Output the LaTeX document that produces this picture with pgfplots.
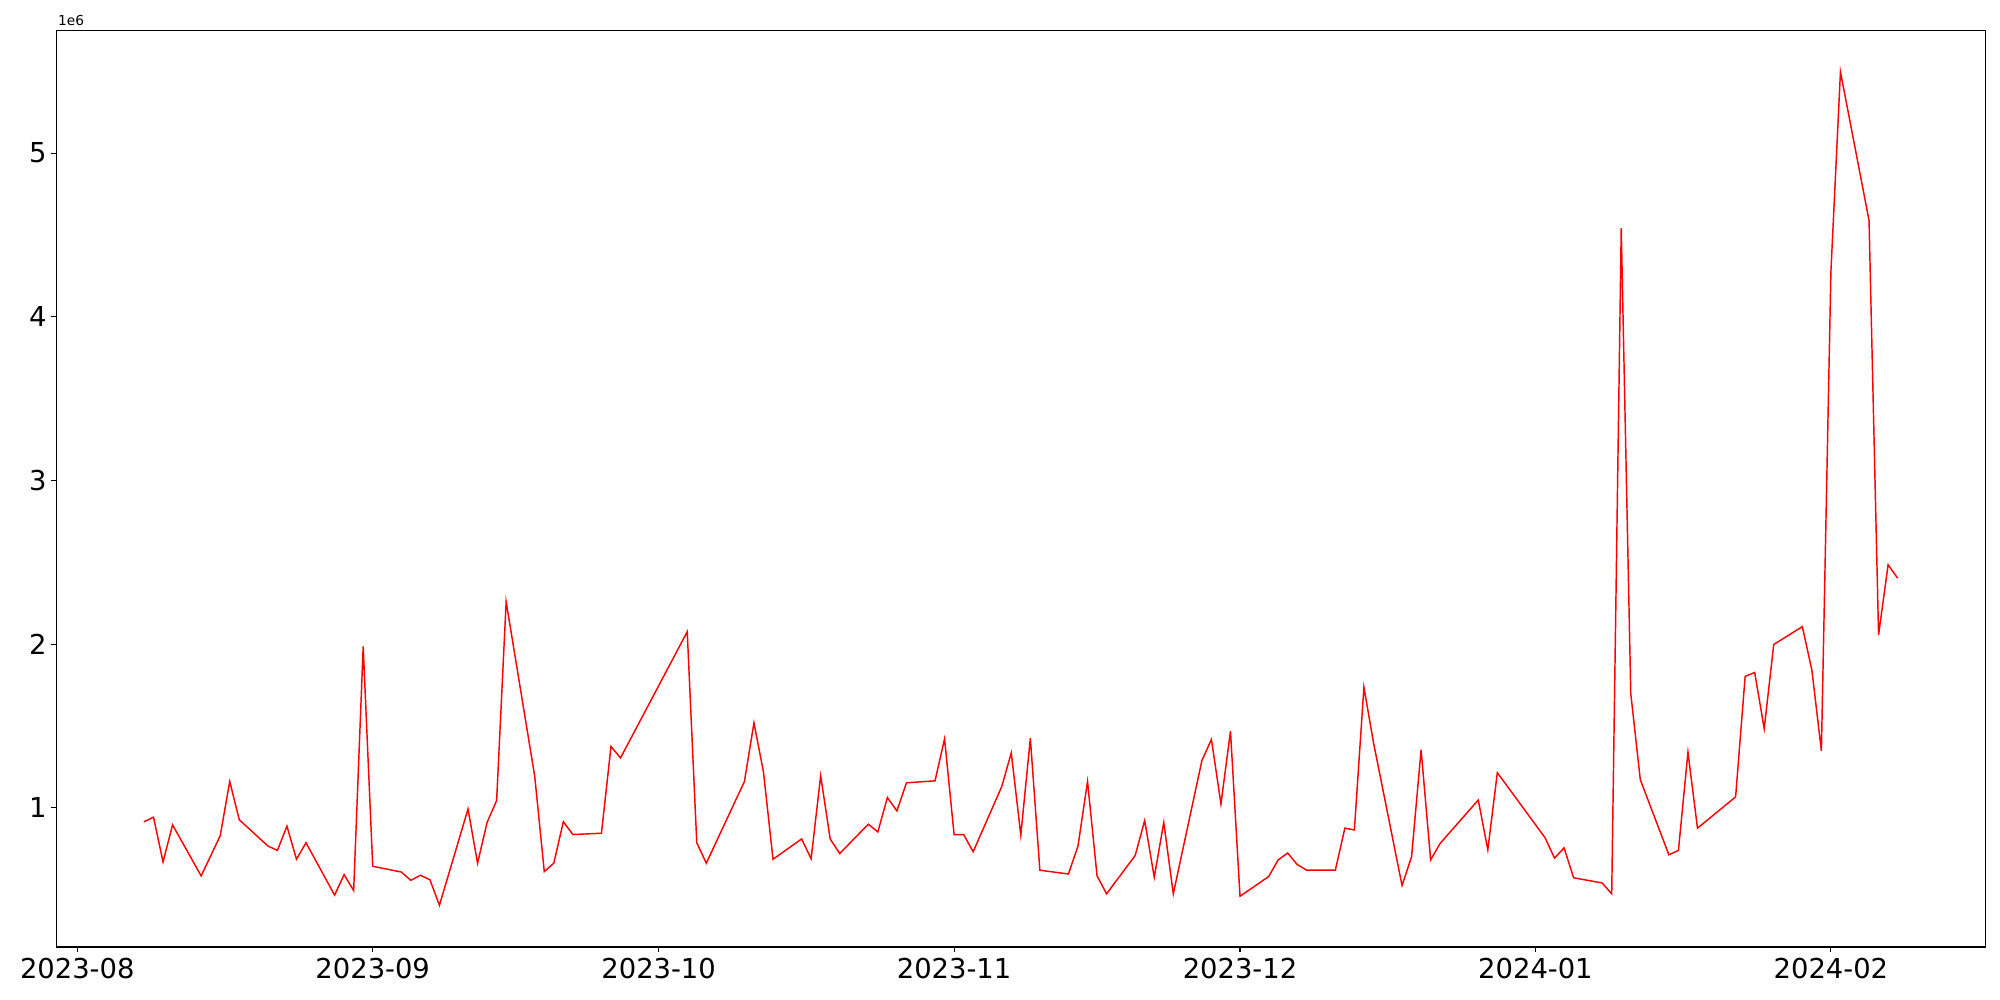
\documentclass[border=0pt]{standalone}
\usepackage{fontspec}
\setmainfont{DejaVu Sans}
\usepackage{pgfplots}
\pgfplotsset{compat=1.18}
\begin{document}
\begin{tikzpicture}
\begin{axis}[
  at={(0,0)}, anchor=south west,
  scale only axis,
  width=1394.1pt, height=662.5pt,
  xmin=-2.2, xmax=200.2,
  ymin=0.15, ymax=5.75,
  xtick={0,31,61,92,122,153,184},
  xticklabels={2023-08,2023-09,2023-10,2023-11,2023-12,2024-01,2024-02},
  ytick={1,2,3,4,5},
  yticklabels={1,2,3,4,5},
  xtick pos=left, ytick pos=left,
  tick align=outside,
  major tick length=3.5pt,
  axis line style={line width=0.8pt},
  every tick/.style={black, line width=0.8pt},
  ticklabel style={font=\fontsize{19.8}{24}\selectfont},
  xticklabel style={yshift=-1pt},
  /pgf/number format/assume math mode=true,
  axis background/.style={fill=white},
  clip=true,
]
\addplot[red, line width=1.05pt, mark=none] coordinates {
(7,0.915) (8,0.943) (9,0.670) (10,0.896) (13,0.584) (15,0.830) (16,1.161) (17,0.927)
(20,0.767) (21,0.740) (22,0.888) (23,0.686) (24,0.787) (27,0.467) (28,0.592) (29,0.495)
(30,1.986) (31,0.643) (34,0.608) (35,0.557) (36,0.588) (37,0.561) (38,0.405) (41,0.993)
(42,0.662) (43,0.911) (44,1.044) (45,2.259) (48,1.192) (49,0.611) (50,0.662) (51,0.915)
(52,0.837) (55,0.845) (56,1.375) (57,1.305) (64,2.076) (65,0.787) (66,0.662) (70,1.161)
(71,1.519) (72,1.219) (73,0.686) (76,0.810) (77,0.689) (78,1.196) (79,0.810) (80,0.721)
(83,0.900) (84,0.853) (85,1.063) (86,0.981) (87,1.153) (90,1.165) (91,1.422) (92,0.837)
(93,0.837) (94,0.732) (97,1.130) (98,1.336) (99,0.833) (100,1.425) (101,0.619) (104,0.596)
(105,0.767) (106,1.161) (107,0.584) (108,0.475) (111,0.709) (112,0.923) (113,0.576) (114,0.911)
(115,0.475) (118,1.289) (119,1.418) (120,1.024) (121,1.468) (122,0.460) (125,0.580) (126,0.682)
(127,0.724) (128,0.654) (129,0.619) (132,0.619) (133,0.876) (134,0.865) (135,1.737) (136,1.400)
(139,0.526) (140,0.701) (141,1.355) (142,0.682) (143,0.783) (147,1.048) (148,0.744) (149,1.215)
(154,0.818) (155,0.693) (156,0.756) (157,0.573) (160,0.541) (161,0.475) (162,4.541) (163,1.698)
(164,1.172) (167,0.713) (168,0.740) (169,1.340) (170,0.876) (174,1.067) (175,1.803) (176,1.827)
(177,1.484) (178,1.998) (181,2.107) (182,1.842) (183,1.348) (184,4.277) (185,5.496) (188,4.588)
(189,2.056) (190,2.485) (191,2.403)
};
\end{axis}
\node[anchor=south west, inner sep=0pt, font=\fontsize{9.9}{12}\selectfont] at (1.2pt,3.2pt+662.5pt) {1e6};
\path (-40.69pt,-38.30pt) rectangle (1404.72pt,684.4pt);
\end{tikzpicture}
\end{document}
